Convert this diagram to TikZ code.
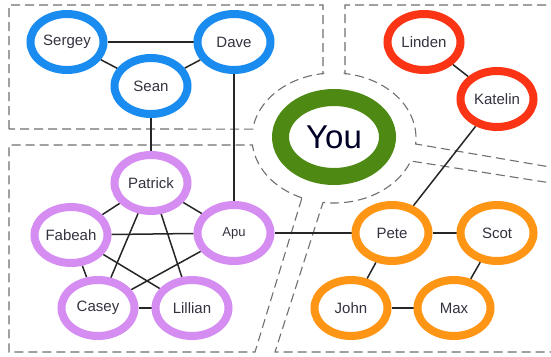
\documentclass[tikz,border=0pt]{standalone}
\usepackage{fontspec}
\setmainfont{Liberation Sans}
\usetikzlibrary{shapes.geometric,backgrounds}

\definecolor{ringblue}{HTML}{1A8CF0}
\definecolor{ringred}{HTML}{FA3414}
\definecolor{ringviolet}{HTML}{D58DF2}
\definecolor{ringorange}{HTML}{FF9514}
\definecolor{ringgreen}{HTML}{4E8A13}
\definecolor{zonegray}{HTML}{707070}
\definecolor{labelgray}{HTML}{333340}

\tikzset{
  person/.style={ellipse, draw=#1, fill=white, line width=8pt, inner sep=0pt,
    minimum width=73pt, minimum height=56pt, text=labelgray,
    font=\fontsize{15}{17}\selectfont},
  me/.style={ellipse, draw=ringgreen, fill=white, line width=17pt, inner sep=0pt,
    minimum width=107pt, minimum height=79pt, text=black!85!blue,
    font=\fontsize{33}{37}\selectfont},
  link/.style={line width=1.5pt, draw=black!85},
  zone/.style={draw=zonegray, line width=1.1pt, dash pattern=on 9pt off 5pt},
}

\begin{document}
\begin{tikzpicture}[x=1pt,y=-1pt]
  \useasboundingbox (0,0) rectangle (551,356);

  % friend groups
  \node[person=ringblue] (sergey) at (67,42) {Sergey};
  \node[person=ringblue] (dave)   at (234,42) {Dave};
  \node[person=ringblue] (sean)   at (151,86) {Sean};

  \node[person=ringred] (linden)  at (424,42) {Linden};
  \node[person=ringred] (katelin) at (497,99) {Katelin};

  \node[person=ringviolet] (patrick) at (151,183) {Patrick};
  \node[person=ringviolet] (fabeah)  at (71,235)  {Fabeah};
  \node[person=ringviolet, font=\fontsize{13}{15}\selectfont] (apu) at (234,233) {Apu};
  \node[person=ringviolet] (casey)   at (98,308)  {Casey};
  \node[person=ringviolet] (lillian) at (192,308) {Lillian};

  \node[person=ringorange] (pete) at (392,233) {Pete};
  \node[person=ringorange] (scot) at (497,233) {Scot};
  \node[person=ringorange] (john) at (351,308) {John};
  \node[person=ringorange] (max)  at (454,308) {Max};

  \node[me] (you) at (334,137) {You};

  \begin{scope}[on background layer]
    \fill[white] (0,0) rectangle (551,356);

    % dashed zones around the centre
    \draw[zone] (9,129) -- (9,5) -- (323,5) -- (323,73.6)
      -- plot[domain=262.3:187.9, samples=40] ({334+82*cos(\x)},{138+65*sin(\x)}) -- cycle;
    \draw[zone] (560,5) -- (345,5) -- (345,73.6)
      -- plot[domain=277.7:365.3, samples=40] ({334+82*cos(\x)},{138+65*sin(\x)})
      -- (560,168.7);
    \draw[zone] (560,184.4) -- (410.7,161)
      -- plot[domain=20.7:97.7, samples=40] ({334+82*cos(\x)},{138+65*sin(\x)})
      -- (275,352) -- (560,352);
    \draw[zone] plot[domain=113:173.8, samples=40] ({334+82*cos(\x)},{138+65*sin(\x)})
      -- (9,145) -- (9,352) -- (255,352) -- cycle;

    % connections
    \draw[link] (sergey) -- (dave);
    \draw[link] (sergey) -- (sean);
    \draw[link] (sean) -- (dave);
    \draw[link] (sean) -- (patrick);
    \draw[link] (dave) -- (apu);
    \draw[link] (linden) -- (katelin);
    \draw[link] (katelin) -- (pete);
    \draw[link] (apu) -- (pete);
    \draw[link] (pete) -- (scot);
    \draw[link] (pete) -- (john);
    \draw[link] (scot) -- (max);
    \draw[link] (john) -- (max);
    \draw[link] (patrick) -- (fabeah);
    \draw[link] (patrick) -- (apu);
    \draw[link] (patrick) -- (casey);
    \draw[link] (patrick) -- (lillian);
    \draw[link] (fabeah) -- (apu);
    \draw[link] (fabeah) -- (casey);
    \draw[link] (fabeah) -- (lillian);
    \draw[link] (apu) -- (casey);
    \draw[link] (casey) -- (lillian);
  \end{scope}
\end{tikzpicture}
\end{document}
